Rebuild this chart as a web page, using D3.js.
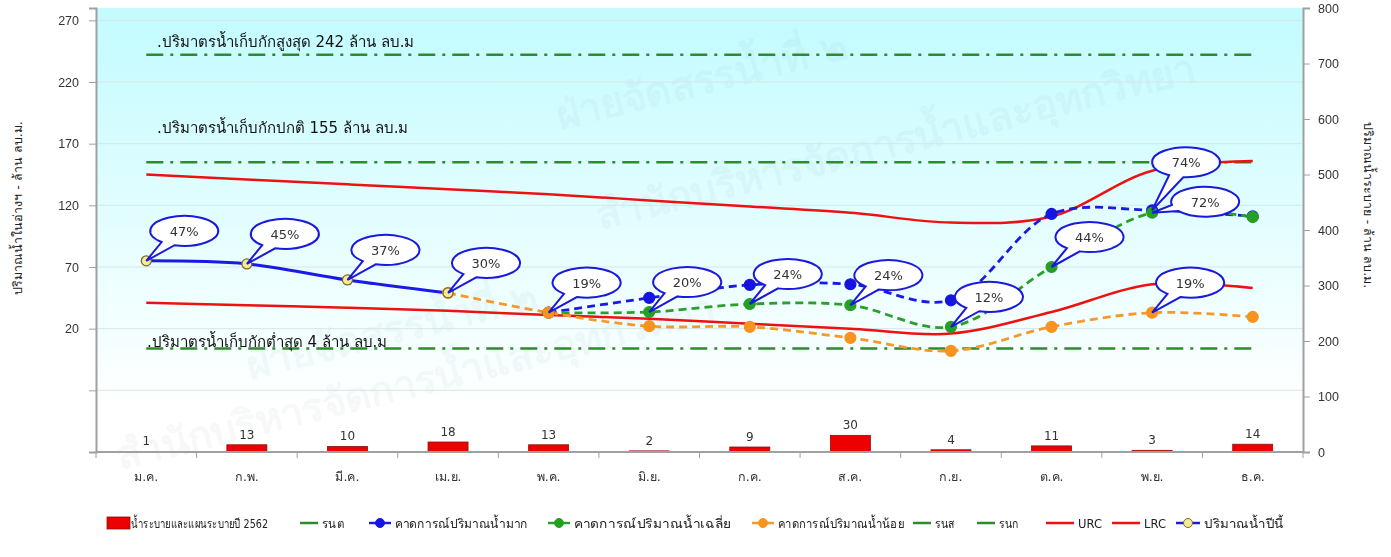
<!DOCTYPE html>
<html>
<head>
<meta charset="utf-8">
<script src="https://cdn.jsdelivr.net/npm/d3@7"></script>
<style>
  body { margin: 0; background: #fff; }
  svg { display: block; font-family: Tahoma, "DejaVu Sans", "Noto Sans", sans-serif; }
</style>
</head>
<body>
<script>
// monthly data
const months = ["ม.ค.", "ก.พ.", "มี.ค.", "เม.ย.", "พ.ค.", "มิ.ย.", "ก.ค.", "ส.ค.", "ก.ย.", "ต.ค.", "พ.ย.", "ธ.ค."];
const release = [1, 13, 10, 18, 13, 2, 9, 30, 4, 11, 3, 14];          // right axis
const currentYear = [75, 72.5, 59.5, 49, null, null, null, null, null, null, null, null];
const forecastHigh = [null, null, null, null, 33, 45, 55.5, 56, 43, 113, 116, 111];
const forecastAvg = [null, null, null, null, 33, 33.5, 40, 39, 21.5, 70, 114, 110.5];
const forecastLow = [null, null, null, 49, 33, 22, 21.5, 12.5, 2, 21.5, 33, 29.5];
const urc = [145, 141, 137, 133, 129, 124, 119, 114, 106, 111, 148, 156];
const lrc = [41, 39, 37, 34.5, 31, 28, 24, 20, 16, 33.5, 56, 53];

const refValues = [242, 155, 4];
const refLabels = [".ปริมาตรน้ำเก็บกักสูงสุด 242 ล้าน ลบ.ม", ".ปริมาตรน้ำเก็บกักปกติ 155 ล้าน ลบ.ม", ".ปริมาตรน้ำเก็บกักต่ำสุด 4 ล้าน ลบ.ม"];

const calloutLabels = ["47%", "45%", "37%", "30%", "19%", "20%", "24%", "24%", "12%", "44%", "74%", "72%", "19%"];
const calloutSeries = ["current", "current", "current", "current", "low", "avg", "avg", "avg", "avg", "avg", "high", "avg", "low"];
const calloutMonth = [0, 1, 2, 3, 4, 5, 6, 7, 8, 9, 10, 10, 10];

const W = 1391, H = 557;
const m = { left: 96, right: 1303, top: 8, bottom: 452 };

const svg = d3.select("body").append("svg").attr("width", W).attr("height", H);

const x = d3.scaleBand().domain(months).range([m.left, m.right]);
const y = d3.scaleLinear().domain([-80, 280]).range([m.bottom, m.top]);
const y2 = d3.scaleLinear().domain([0, 800]).range([m.bottom, m.top]);
const cx = i => x(months[i]) + x.bandwidth() / 2;

// background gradient
const grad = svg.append("defs").append("linearGradient")
  .attr("id", "bg").attr("x1", 0).attr("y1", 0).attr("x2", 0).attr("y2", 1);
grad.append("stop").attr("offset", 0).attr("stop-color", "#c2fbff");
grad.append("stop").attr("offset", 0.55).attr("stop-color", "#e8feff");
grad.append("stop").attr("offset", 0.9).attr("stop-color", "#ffffff");

svg.append("rect")
  .attr("x", m.left).attr("y", m.top)
  .attr("width", m.right - m.left).attr("height", m.bottom - m.top)
  .attr("fill", "url(#bg)");

// faint watermark
const wm = svg.append("g").attr("fill", "#7a9aa0").attr("opacity", 0.07)
  .attr("font-size", 40).attr("font-weight", "bold");
wm.append("text").attr("transform", "translate(560,130) rotate(-14)").text("ฝ่ายจัดสรรน้ำที่ ๒");
wm.append("text").attr("transform", "translate(600,230) rotate(-14)").text("สำนักบริหารจัดการน้ำและอุทกวิทยา");
wm.append("text").attr("transform", "translate(250,380) rotate(-14)").text("ฝ่ายจัดสรรน้ำที่ ๒");
wm.append("text").attr("transform", "translate(120,470) rotate(-14)").text("สำนักบริหารจัดการน้ำและอุทกวิทยา");

// gridlines
const leftTicks = d3.range(-30, 281, 50);
svg.append("g").selectAll("line").data(leftTicks).join("line")
  .attr("x1", m.left).attr("x2", m.right)
  .attr("y1", d => y(d)).attr("y2", d => y(d))
  .attr("stroke", "#d5e6e8").attr("stroke-width", 1);

// left axis
const ax = svg.append("g").attr("transform", `translate(${m.left},0)`)
  .call(d3.axisLeft(y).tickValues([-80].concat(leftTicks)).tickSize(7).tickPadding(10)
    .tickFormat(d => d >= 20 ? d : ""));
ax.select(".domain").attr("stroke", "#a0a0a0").attr("stroke-width", 2);
ax.selectAll(".tick line").attr("stroke", "#a0a0a0");
ax.selectAll("text").attr("font-size", 12.5).attr("fill", "#333");

// right axis
const ar = svg.append("g").attr("transform", `translate(${m.right},0)`)
  .call(d3.axisRight(y2).ticks(8).tickSize(7).tickPadding(8));
ar.select(".domain").attr("stroke", "#a0a0a0").attr("stroke-width", 2);
ar.selectAll(".tick line").attr("stroke", "#a0a0a0");
ar.selectAll("text").attr("font-size", 12.5).attr("fill", "#333");

// axis titles
svg.append("text").attr("transform", `translate(22,208) rotate(-90)`)
  .attr("text-anchor", "middle").attr("font-size", 12.5).attr("fill", "#222")
  .text("ปริมาณน้ำในอ่างฯ - ล้าน ลบ.ม.");
svg.append("text").attr("transform", `translate(1364,205) rotate(90)`)
  .attr("text-anchor", "middle").attr("font-size", 12.5).attr("fill", "#222")
  .text("ปริมาณน้ำระบาย - ล้าน ลบ.ม.");

// release bars (right axis)
const bw = 40;
svg.append("g").selectAll("rect").data(release).join("rect")
  .attr("x", (d, i) => cx(i) - bw / 2).attr("width", bw)
  .attr("y", d => y2(d)).attr("height", d => m.bottom - y2(d))
  .attr("fill", "#ee0000").attr("stroke", "#8a1010").attr("stroke-width", 0.8);
svg.append("g").selectAll("text").data(release).join("text")
  .attr("x", (d, i) => cx(i)).attr("y", d => y2(d) - 6)
  .attr("text-anchor", "middle").attr("font-size", 12).attr("fill", "#333")
  .text(d => d);

// x axis
svg.append("line").attr("x1", m.left).attr("x2", m.right)
  .attr("y1", m.bottom).attr("y2", m.bottom)
  .attr("stroke", "#a0a0a0").attr("stroke-width", 2);
svg.append("g").selectAll("line").data(d3.range(13)).join("line")
  .attr("x1", i => m.left + i * x.bandwidth()).attr("x2", i => m.left + i * x.bandwidth())
  .attr("y1", m.bottom).attr("y2", m.bottom + 6)
  .attr("stroke", "#a0a0a0");
svg.append("g").selectAll("text").data(months).join("text")
  .attr("x", (d, i) => cx(i)).attr("y", 481)
  .attr("text-anchor", "middle").attr("font-size", 12.5).attr("fill", "#333")
  .text(d => d);

// reference lines
const refDY = [-8, -29, -1];
const refDX = [157, 157, 147];
svg.append("g").selectAll("line").data(refValues).join("line")
  .attr("x1", cx(0)).attr("x2", cx(11))
  .attr("y1", d => y(d)).attr("y2", d => y(d))
  .attr("stroke", "#2e8b2e").attr("stroke-width", 2.5)
  .attr("stroke-dasharray", "17,7,3,7");
svg.append("g").selectAll("text").data(refLabels).join("text")
  .attr("x", (d, i) => refDX[i]).attr("y", (d, i) => y(refValues[i]) + refDY[i])
  .attr("font-size", 15).attr("fill", "#111")
  .text(d => d);

// series
const line = d3.line()
  .defined(d => d != null)
  .x((d, i) => cx(i)).y(d => y(d))
  .curve(d3.curveCatmullRom.alpha(0.5));

function drawLine(vals, color, width, dash) {
  svg.append("path").datum(vals)
    .attr("d", d => line(d))
    .attr("fill", "none").attr("stroke", color).attr("stroke-width", width)
    .attr("stroke-dasharray", dash || null);
}
function drawDots(vals, fill, stroke, r) {
  svg.append("g").selectAll("circle")
    .data(vals.map((v, i) => ({ v, i })).filter(d => d.v != null))
    .join("circle")
    .attr("cx", d => cx(d.i)).attr("cy", d => y(d.v)).attr("r", r)
    .attr("fill", fill).attr("stroke", stroke).attr("stroke-width", 1.2);
}

drawLine(urc, "#ee1111", 2.5);
drawLine(lrc, "#ee1111", 2.5);
drawLine(forecastHigh, "#1a1ae6", 2.8, "8,5");
drawLine(forecastAvg, "#2aa02a", 2.8, "8,5");
drawLine(forecastLow, "#f5992a", 2.8, "8,5");
drawLine(currentYear, "#1a1ae6", 3);
drawDots(forecastHigh, "#1515e0", "#1515e0", 5.5);
drawDots(forecastAvg, "#25a025", "#25a025", 5.5);
drawDots(forecastLow, "#f79420", "#f79420", 5.5);
drawDots(currentYear, "#f4eb9a", "#7a6a20", 5);

// callouts
const seriesMap = { current: currentYear, high: forecastHigh, avg: forecastAvg, low: forecastLow };
const offsets = { 10: [34, -48], 11: [53, -11] };
const rx = 34, ry = 15;
const cg = svg.append("g");
calloutLabels.forEach((lab, k) => {
  const i = calloutMonth[k];
  const tx = cx(i), ty = y(seriesMap[calloutSeries[k]][i]);
  const [dx, dy] = offsets[k] || [38, -30];
  const ex = tx + dx, ey = ty + dy;
  const phi = Math.atan2((ty - ey) / ry, (tx - ex) / rx);
  const dl = 0.22;
  const a = [ex + rx * Math.cos(phi + dl), ey + ry * Math.sin(phi + dl)];
  const b = [ex + rx * Math.cos(phi - dl), ey + ry * Math.sin(phi - dl)];
  cg.append("path")
    .attr("d", `M${a[0]},${a[1]} A${rx},${ry} 0 1 1 ${b[0]},${b[1]} L${tx},${ty} Z`)
    .attr("fill", "#fff").attr("stroke", "#1a1adc").attr("stroke-width", 2);
  cg.append("text").attr("x", ex).attr("y", ey + 5)
    .attr("text-anchor", "middle").attr("font-size", 13).attr("fill", "#333")
    .text(lab);
});

// legend
const lg = svg.append("g").attr("font-size", 12.5).attr("fill", "#222");
const ly = 523;
lg.append("rect").attr("x", 107).attr("y", ly - 6).attr("width", 23).attr("height", 12)
  .attr("fill", "#ee0000").attr("stroke", "#8a1010").attr("stroke-width", 0.8);
lg.append("text").attr("x", 131).attr("y", ly + 5)
  .attr("textLength", 137).attr("lengthAdjust", "spacingAndGlyphs")
  .text("น้ำระบายและแผนระบายปี 2562");
const legendItems = [
  { x: 300, w: 18, tw: 22, color: "#2e8b2e", dot: null, text: "รนต" },
  { x: 369, w: 22, tw: 133, color: "#1a1ae6", dot: "#1515e0", text: "คาดการณ์ปริมาณน้ำมาก" },
  { x: 548, w: 22, tw: 157, color: "#2aa02a", dot: "#25a025", text: "คาดการณ์ปริมาณน้ำเฉลี่ย" },
  { x: 752, w: 22, tw: 126, color: "#f5992a", dot: "#f79420", text: "คาดการณ์ปริมาณน้ำน้อย" },
  { x: 913, w: 18, tw: 20, color: "#2e8b2e", dot: null, text: "รนส" },
  { x: 977, w: 18, tw: 20, color: "#2e8b2e", dot: null, text: "รนก" },
  { x: 1046, w: 28, tw: 24, color: "#ee1111", dot: null, text: "URC" },
  { x: 1112, w: 28, tw: 22, color: "#ee1111", dot: null, text: "LRC" },
  { x: 1176, w: 24, tw: 80, color: "#1a1ae6", dot: "#f4eb9a", text: "ปริมาณน้ำปีนี้" }
];
legendItems.forEach(d => {
  lg.append("line").attr("x1", d.x).attr("x2", d.x + d.w).attr("y1", ly).attr("y2", ly)
    .attr("stroke", d.color).attr("stroke-width", 2.5);
  if (d.dot) lg.append("circle").attr("cx", d.x + d.w / 2).attr("cy", ly).attr("r", 4.5)
    .attr("fill", d.dot).attr("stroke", d.dot === "#f4eb9a" ? "#7a6a20" : d.dot);
  lg.append("text").attr("x", d.x + d.w + 4).attr("y", ly + 5)
    .attr("textLength", d.tw).attr("lengthAdjust", "spacingAndGlyphs")
    .text(d.text);
});
</script>
</body>
</html>
